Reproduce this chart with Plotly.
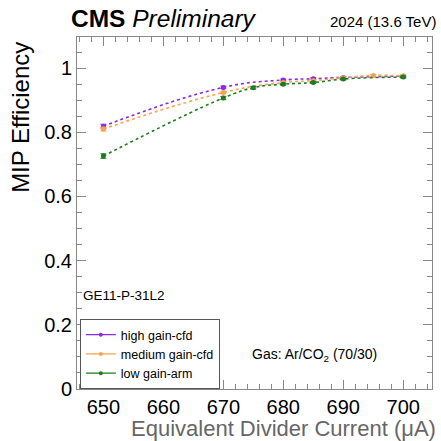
import plotly.graph_objects as go

high_x = [650, 670, 680, 685, 690, 700]
high_y = [0.819, 0.940, 0.963, 0.967, 0.971, 0.975]
high_err = [0.006, 0.004, 0.003, 0.003, 0.003, 0.003]

med_x = [650, 670, 680, 685, 690, 695, 700]
med_y = [0.810, 0.924, 0.955, 0.961, 0.970, 0.977, 0.976]
med_err = [0.006, 0.004, 0.003, 0.003, 0.003, 0.003, 0.003]

low_x = [650, 670, 675, 680, 685, 690, 700]
low_y = [0.726, 0.907, 0.939, 0.950, 0.955, 0.966, 0.972]
low_err = [0.007, 0.005, 0.004, 0.003, 0.003, 0.003, 0.003]

names = ["high gain-cfd", "medium gain-cfd", "low gain-arm"]
colors = ["#8a2be2", "#ffa04a", "#1e7b1e"]

fig = go.Figure()
for nm, xs, ys, es, c in zip(names, [high_x, med_x, low_x], [high_y, med_y, low_y],
                             [high_err, med_err, low_err], colors):
    fig.add_trace(go.Scatter(
        x=xs, y=ys, name=nm, mode="lines+markers", showlegend=False, legendgroup=nm,
        line=dict(color=c, width=1.6, dash="dot", shape="spline", smoothing=1.3),
        marker=dict(color=c, size=5),
        error_y=dict(type="data", array=es, color=c, thickness=1, width=3),
    ))
    fig.add_trace(go.Scatter(
        x=[None], y=[None], name=nm, mode="lines+markers", legendgroup=nm,
        line=dict(color=c, width=1.3), marker=dict(color=c, size=4),
    ))

font = "Liberation Sans, Arial, sans-serif"
axcol = "#888888"
fig.update_layout(
    width=441, height=441,
    margin=dict(l=77, r=9, t=37, b=52),
    paper_bgcolor="white", plot_bgcolor="white",
    font=dict(family=font, color="black"),
    showlegend=True,
    legend=dict(x=0.008, y=0.0, xanchor="left", yanchor="bottom",
                bordercolor="#555555", borderwidth=1, bgcolor="white",
                font=dict(size=12.5, family=font), itemwidth=30,
                tracegroupgap=0),
    xaxis=dict(range=[645.6, 704.8], dtick=10, tick0=650,
               showgrid=False, zeroline=False,
               showline=True, linecolor=axcol, mirror="ticks",
               ticks="inside", ticklen=9, tickcolor=axcol,
               minor=dict(dtick=2, ticklen=5, ticks="inside", tickcolor=axcol),
               tickfont=dict(size=20, color="black")),
    yaxis=dict(range=[0, 1.097], dtick=0.2, tick0=0,
               showgrid=False, zeroline=False,
               showline=True, linecolor=axcol, mirror="ticks",
               ticks="inside", ticklen=9, tickcolor=axcol,
               minor=dict(dtick=0.05, ticklen=5, ticks="inside", tickcolor=axcol),
               tickfont=dict(size=20, color="black"),
               tickformat="~g"),
    annotations=[
        dict(text="<b>CMS</b> <i>Preliminary</i>", xref="paper", yref="paper",
             x=-0.022, y=1.0, xanchor="left", yanchor="bottom", yshift=3,
             showarrow=False, font=dict(size=24.5, family=font)),
        dict(text="2024 (13.6 TeV)", xref="paper", yref="paper",
             x=1.0, y=1.0, xanchor="right", yanchor="bottom", yshift=5, xshift=6,
             showarrow=False, font=dict(size=15, family=font)),
        dict(text="Equivalent Divider Current (μA)", xref="paper", yref="paper",
             x=1.017, y=-0.111, xanchor="right", yanchor="middle",
             showarrow=False, font=dict(size=22, family=font, color="#666666")),
        dict(text="MIP Efficiency", xref="paper", yref="paper", textangle=-90,
             x=-0.16, y=0.991, xanchor="center", yanchor="top",
             showarrow=False, font=dict(size=24, family=font)),
        dict(text="GE11-P-31L2", xref="paper", yref="y",
             x=0.01, y=0.29, xanchor="left", yanchor="middle",
             showarrow=False, font=dict(size=13.5, family=font)),
        dict(text="Gas: Ar/CO<sub>2</sub> (70/30)", xref="paper", yref="y",
             x=0.67, y=0.105, xanchor="center", yanchor="middle",
             showarrow=False, font=dict(size=14, family=font)),
    ],
)

fig.write_html("out.html", config={"displayModeBar": False},
               post_script="document.body.style.margin='0';document.body.style.overflow='hidden';")
